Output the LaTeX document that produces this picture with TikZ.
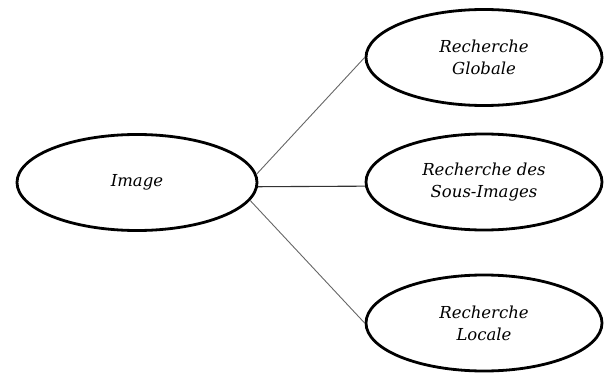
\documentclass[tikz,border=0pt]{standalone}
\usepackage{fontspec}
\setmainfont{DejaVu Serif}
\usetikzlibrary{shapes.geometric}
\tikzset{
  oval/.style={ellipse, draw=black, line width=2.8pt, minimum width=240pt, minimum height=96pt, inner sep=0pt, align=center, font=\itshape\fontsize{16.5}{22}\selectfont},
  link/.style={draw=black!60, line width=0.9pt},
  linkdark/.style={draw=black!80, line width=1.1pt}
}
\begin{document}
\begin{tikzpicture}[x=1pt,y=-1pt]
\useasboundingbox (0,0) rectangle (604,374);
\node[oval] (img) at (137,182.5) {Image};
\node[oval, minimum width=236pt] (glob) at (484,57.5) {Recherche\\Globale};
\node[oval, minimum width=236pt] (sous) at (484,182) {Recherche des\\Sous-Images};
\node[oval, minimum width=236pt] (loc) at (484,323) {Recherche\\Locale};
\draw[link] (img.4) -- (glob.west);
\draw[linkdark] (img.-2.6) -- (sous.182.6);
\draw[link] (img.-9) -- (loc.west);
\end{tikzpicture}
\end{document}
